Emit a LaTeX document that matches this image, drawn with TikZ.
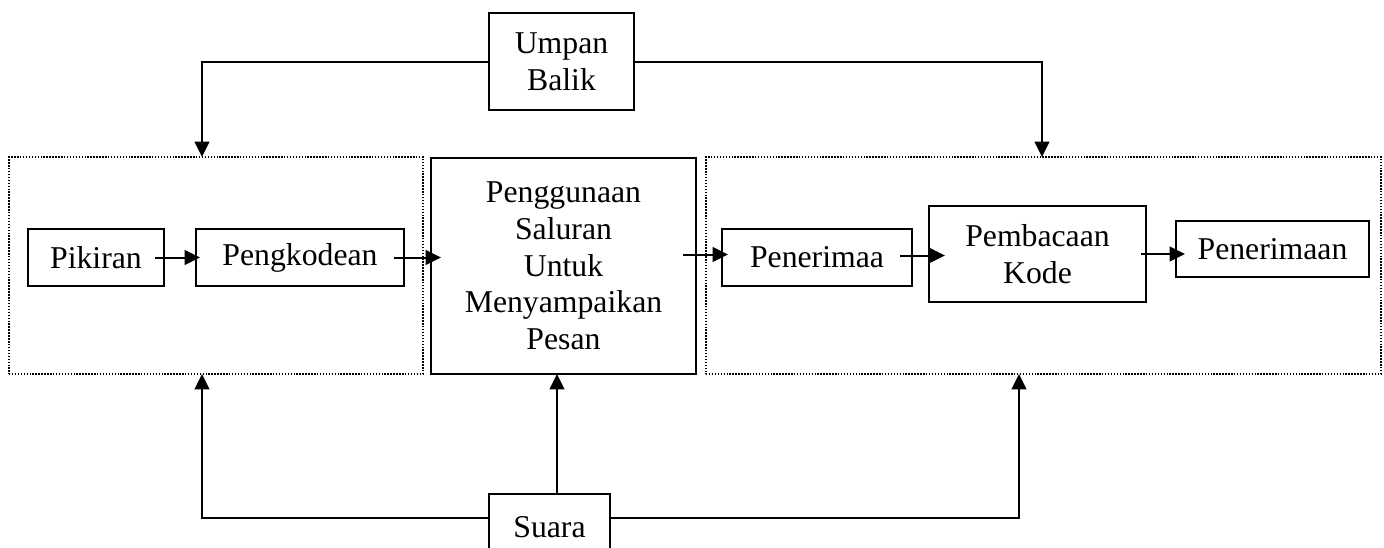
\documentclass[tikz,border=0pt]{standalone}
\usepackage{fontspec}
\setmainfont{Liberation Serif}
\usetikzlibrary{arrows.meta,calc}
\newcommand{\diafont}{\fontsize{23.8pt}{27.5pt}\selectfont}
\begin{document}
\begin{tikzpicture}[x=0.75pt,y=-0.75pt,
  box/.style={draw, line width=1.5pt, inner sep=0pt, align=center, font=\diafont},
  grp/.style={draw, line width=1.2pt, dash pattern=on 1.1pt off 1.1pt, inner sep=0pt},
  arr/.style={line width=1.5pt, -{Triangle[length=11.5pt,width=11pt]}}]
\clip (0,0) rectangle (1384,547);
\fill[white] (0,0) rectangle (1384,547);
% group boxes
\node[grp, minimum width=310.5pt, minimum height=162.75pt] (leftgrp) at (216,265.5) {};
\node[grp, minimum width=506.25pt, minimum height=162.75pt] (rightgrp) at (1043.5,265.5) {};
% boxes
\node[box, minimum width=108.75pt, minimum height=72.75pt] (umpan) at (561.5,61.5) {Umpan\\Balik};
\node[box, minimum width=102pt, minimum height=42.75pt] (pikiran) at (96,257.5) {Pikiran};
\node[box, minimum width=156pt, minimum height=42.75pt] (pengkodean) at (300,257.5) {Pengkodean};
\node[box, minimum width=198.75pt, minimum height=162pt] (center) at (563.5,266) {Penggunaan\\Saluran\\Untuk\\Menyampaikan\\Pesan};
\node[box, minimum width=142.5pt, minimum height=42.75pt] (penerimaa) at (817,257.5) {Penerimaa};
\node[box, minimum width=162.75pt, minimum height=72pt] (pembacaan) at (1037.5,254) {Pembacaan\\Kode};
\node[box, minimum width=144.75pt, minimum height=42pt] (penerimaan) at (1272.5,249) {Penerimaan};
\node[box, minimum width=90.75pt, minimum height=49.5pt] (suara) at (549.5,527) {Suara};
% coordinates
\coordinate (fbL) at (202,157);
\coordinate (fbR) at (1042,157);
\coordinate (nzL) at (202,374);
\coordinate (nzC) at (557,374);
\coordinate (nzR) at (1019,374);
% flow arrows
\draw[arr] ($(pikiran.east)+(-10,0)$) -- ($(pikiran.east -| pengkodean.west)+(5,0)$);
\draw[arr] ($(pengkodean.east)+(-11,0)$) -- ($(pengkodean.east -| center.west)+(11,0)$);
\draw[arr] ($(center.east |- penerimaa.west)+(-14,-3)$) -- ($(penerimaa.west)+(7,-3)$);
\draw[arr] ($(penerimaa.east)+(-13,-2)$) -- ($(penerimaa.east -| pembacaan.west)+(17,-2)$);
\draw[arr] ($(pembacaan.east)+(-6,0)$) -- ($(pembacaan.east -| penerimaan.west)+(10,0)$);
% feedback
\draw[arr] (umpan.west) -| (fbL);
\draw[arr] (umpan.east) -| (fbR);
% noise
\draw[arr] ($(suara.west)+(0,-9)$) -| (nzL);
\draw[arr] ($(suara.east)+(0,-9)$) -| (nzR);
\draw[arr] (nzC |- suara.north) -- (nzC);
\end{tikzpicture}
\end{document}
